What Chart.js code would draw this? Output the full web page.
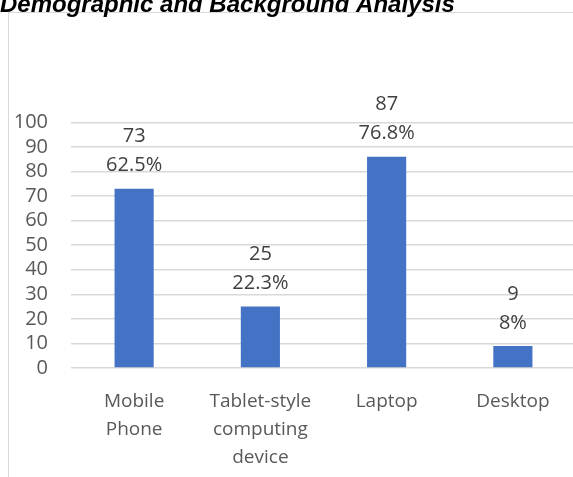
<!DOCTYPE html>
<html>
<head>
<meta charset="utf-8">
<script src="https://cdn.jsdelivr.net/npm/chart.js@4/dist/chart.umd.min.js"></script>
<style>
  html, body { margin: 0; padding: 0; background: #fff; overflow: hidden; width: 573px; height: 477px; }
  #frame { position: absolute; left: 8px; top: 12px; width: 700px; height: 600px; border: 1px solid #d9d9d9; }
  #wrap { position: absolute; left: 0; top: -16px; width: 580px; height: 490px; }
</style>
</head>
<body>
<div id="frame"></div>
<div id="wrap"><canvas id="devices"></canvas></div>
<script>
const categories = [["Mobile", "Phone"], ["Tablet-style", "computing", "device"], "Laptop", "Desktop"];
const barValues = [73, 25, 86, 9];
const countLabels = ["73", "25", "87", "9"];
const percentLabels = ["62.5%", "22.3%", "76.8%", "8%"];

// labels above each bar: count, then percentage
const barLabels = {
  id: "barLabels",
  afterDatasetsDraw(chart) {
    const c = chart.ctx;
    c.save();
    c.font = "20px 'Open Sans'";
    c.fillStyle = "#404040";
    c.textAlign = "center";
    c.textBaseline = "middle";
    chart.getDatasetMeta(0).data.forEach((bar, i) => {
      c.fillText(countLabels[i], bar.x, bar.y - 52);
      c.fillText(percentLabels[i], bar.x, bar.y - 23);
    });
    c.restore();
  },
};

new Chart(document.getElementById("devices"), {
  type: "bar",
  data: {
    labels: categories,
    datasets: [
      {
        data: barValues,
        backgroundColor: "#4472c4",
        borderWidth: 0,
        categoryPercentage: 1,
        barPercentage: 0.31,
      },
    ],
  },
  options: {
    responsive: true,
    maintainAspectRatio: false,
    animation: false,
    layout: { padding: { left: 0, right: 4, top: 0, bottom: 0 } },
    plugins: {
      legend: { display: false },
      tooltip: { enabled: false },
      title: {
        display: true,
        text: "Demographic and Background Analysis",
        align: "start",
        color: "#000",
        font: { family: "'Liberation Sans', Arial", size: 24, weight: "bold", style: "italic" },
        padding: { top: 7, bottom: 102.5 },
      },
    },
    scales: {
      x: {
        grid: { display: false },
        border: { display: false },
        ticks: {
          color: "#595959",
          font: { family: "'Open Sans'", size: 19, lineHeight: 1.47 },
          padding: 12,
          maxRotation: 0,
          autoSkip: false,
        },
        afterFit(scale) { scale.height = 106; },
      },
      y: {
        min: 0,
        max: 100,
        grid: { color: "#d9d9d9", lineWidth: 1.5, drawTicks: false },
        border: { display: false },
        ticks: {
          stepSize: 10,
          autoSkip: false,
          color: "#595959",
          font: { family: "'Open Sans'", size: 20 },
          padding: 23,
        },
        afterFit(scale) { scale.width = 71; },
      },
    },
  },
  plugins: [barLabels],
});
</script>
</body>
</html>
